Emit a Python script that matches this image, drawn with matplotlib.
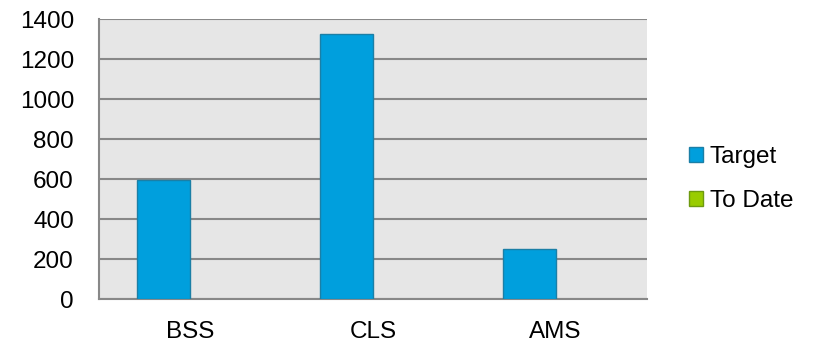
import matplotlib
matplotlib.use("Agg")
import matplotlib.pyplot as plt
from matplotlib.patches import Patch
import numpy as np

categories = ["BSS", "CLS", "AMS"]
target = [593, 1323, 250]
to_date = [0, 0, 0]
series_names = ["Target", "To Date"]
yticks = [0, 200, 400, 600, 800, 1000, 1200, 1400]

plt.rcParams['font.family'] = ['Liberation Sans', 'DejaVu Sans']

fig = plt.figure(figsize=(8.17, 3.44), dpi=100)
ax = fig.add_axes([99/817, (344-299)/344, (647-99)/817, (299-19)/344])
ax.set_facecolor('#E6E6E6')

blue, blue_edge = '#009FDD', '#1B7FA6'
green, green_edge = '#99CC00', '#6E9A10'

x = np.arange(len(categories))
w = 0.29
ax.bar(x - w/2, target, width=w, color=blue, edgecolor=blue_edge, linewidth=1, zorder=3)
ax.bar(x + w/2, to_date, width=w, color=green, edgecolor=green_edge, linewidth=0, zorder=3)

ax.set_xlim(-0.5, len(categories) - 0.5)
ax.set_ylim(0, 1400)
ax.set_yticks(yticks)
ax.set_xticks(x)
ax.set_xticklabels(categories)
ax.yaxis.grid(True, color='#888888', linewidth=1.5, zorder=1)
ax.set_axisbelow(True)
for s in ['top', 'right']:
    ax.spines[s].set_visible(False)
for s in ['left', 'bottom']:
    ax.spines[s].set_color('#888888')
    ax.spines[s].set_linewidth(1.5)
ax.tick_params(axis='both', length=0, labelsize=17.5, colors='black')
ax.tick_params(axis='y', pad=18)
ax.tick_params(axis='x', pad=16)

handles = [Patch(facecolor=blue, edgecolor=blue_edge, linewidth=1),
           Patch(facecolor=green, edgecolor=green_edge, linewidth=1)]
fig.legend(handles, series_names, loc='center left', bbox_to_anchor=(667/817, 1 - 179/344),
           frameon=False, fontsize=17.5, handlelength=0.6, handleheight=0.6,
           handletextpad=0.25, labelspacing=0.9)

fig.savefig('out.png', dpi=100)
